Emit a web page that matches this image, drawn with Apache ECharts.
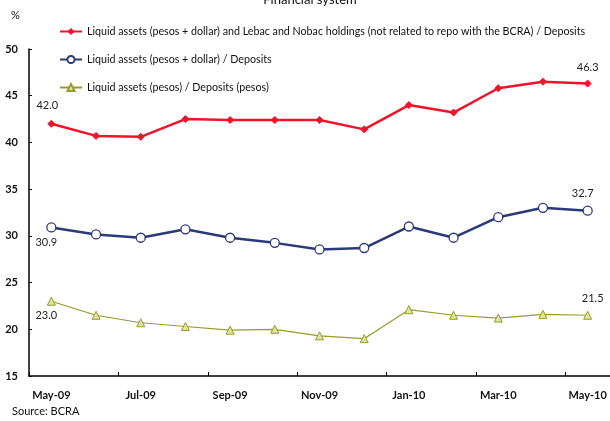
<!DOCTYPE html>
<html><head><meta charset="utf-8">
<script src="https://cdn.jsdelivr.net/npm/echarts@6/dist/echarts.min.js"></script>
<style>html,body{margin:0;padding:0;background:#fff}#c{width:610px;height:421px}</style>
</head><body><div id="c"></div>
<script>
var categories = ['May-09','Jun-09','Jul-09','Aug-09','Sep-09','Oct-09','Nov-09','Dec-09','Jan-10','Feb-10','Mar-10','Apr-10','May-10'];
var seriesNames = [
  'Liquid assets (pesos + dollar) and Lebac and Nobac holdings (not related to repo with the BCRA) / Deposits',
  'Liquid assets (pesos + dollar) / Deposits',
  'Liquid assets (pesos) / Deposits (pesos)'
];
var liquidLebac = [42.0, 40.7, 40.6, 42.5, 42.4, 42.4, 42.4, 41.4, 44.0, 43.2, 45.8, 46.5, 46.3];
var liquidTotal = [30.9, 30.15, 29.8, 30.7, 29.8, 29.25, 28.55, 28.7, 31.0, 29.8, 32.0, 33.0, 32.7];
var liquidPesos = [23.0, 21.5, 20.7, 20.3, 19.9, 20.0, 19.3, 19.0, 22.1, 21.5, 21.2, 21.6, 21.5];
var yTicks = [15, 20, 25, 30, 35, 40, 45, 50];

var FONT = 'Lato';
function withLabels(arr, firstLab, lastLab) {
  return arr.map(function (v, i) {
    if (i === 0) return {value: v, label: Object.assign({show: true}, firstLab)};
    if (i === arr.length - 1) return {value: v, label: Object.assign({show: true}, lastLab)};
    return v;
  });
}
var labelBase = {formatter: function (p) { return p.value.toFixed(1); }, color: '#222', fontSize: 11, fontFamily: FONT};

var chart = echarts.init(document.getElementById('c'), null, {renderer: 'canvas'});
chart.setOption({
  animation: false,
  backgroundColor: '#fff',
  grid: {left: 29, right: -4, top: 49, bottom: 45},
  legend: {
    orient: 'vertical', left: 54, top: 21, itemWidth: 22, itemHeight: 9, itemGap: 17,
    textStyle: {fontFamily: FONT, fontSize: 10.7, color: '#111'},
    data: seriesNames
  },
  graphic: [
    {type: 'text', x: 310, y: -7, style: {text: 'Financial system', font: '13px ' + FONT, fill: '#111', align: 'center'}},
    {type: 'text', left: 11, top: 10, style: {text: '%', font: '11px ' + FONT, fill: '#111'}},
    {type: 'text', left: 12, top: 406, style: {text: 'Source: BCRA', font: '11px ' + FONT, fill: '#111'}}
  ],
  xAxis: {
    type: 'category', data: categories, boundaryGap: true,
    axisLine: {lineStyle: {color: '#000', width: 1.5}},
    axisTick: {show: true, inside: true, length: 4, interval: 1, lineStyle: {color: '#000'}},
    axisLabel: {interval: 1, margin: 14, fontFamily: FONT, fontWeight: 'bold', fontSize: 11, color: '#111'}
  },
  yAxis: {
    type: 'value', min: yTicks[0], max: yTicks[yTicks.length - 1], interval: 5,
    axisLine: {show: true, lineStyle: {color: '#000', width: 1.5}},
    axisTick: {show: true, inside: true, length: 3, lineStyle: {color: '#000'}},
    splitLine: {show: false},
    axisLabel: {margin: 11, fontFamily: FONT, fontWeight: 'bold', fontSize: 11, color: '#111'}
  },
  series: [
    {
      name: seriesNames[0], type: 'line',
      data: withLabels(liquidLebac, Object.assign({position: 'top', distance: 9, offset: [-4, 0]}, labelBase), Object.assign({position: 'top', distance: 7}, labelBase)),
      symbol: 'diamond', symbolSize: 7,
      lineStyle: {color: '#f0142a', width: 2.5},
      itemStyle: {color: '#f0142a', borderColor: '#f0142a'},
      z: 3
    },
    {
      name: seriesNames[1], type: 'line',
      data: withLabels(liquidTotal, Object.assign({position: 'bottom', distance: 4, offset: [-5, 0]}, labelBase), Object.assign({position: 'top', distance: 7, offset: [-5, 0]}, labelBase)),
      symbol: 'circle', symbolSize: 9,
      lineStyle: {color: '#2b3a78', width: 2.5},
      itemStyle: {color: '#fff', borderColor: '#2b3a78', borderWidth: 1.3},
      z: 2
    },
    {
      name: seriesNames[2], type: 'line',
      data: withLabels(liquidPesos, Object.assign({position: 'bottom', distance: 4, offset: [-5, 0]}, labelBase), Object.assign({position: 'top', distance: 7, offset: [5, 0]}, labelBase)),
      symbol: 'triangle', symbolSize: 8,
      lineStyle: {color: '#9a9a2a', width: 1.2},
      itemStyle: {color: '#dfe3a0', borderColor: '#9a9a2a', borderWidth: 1},
      z: 1
    }
  ]
});
</script></body></html>
